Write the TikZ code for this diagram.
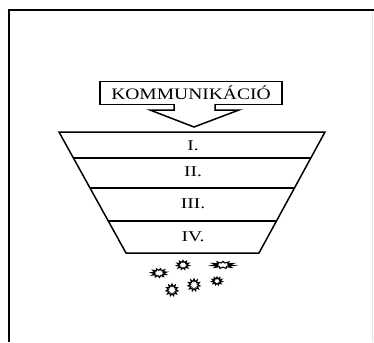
\documentclass[tikz,border=0pt]{standalone}
\usepackage{fontspec}
\setmainfont{Liberation Serif}
\usepackage{graphicx}
\usetikzlibrary{shapes.geometric,calc}
\tikzset{
  frameline/.style={line width=2.6pt, black},
  topline/.style={line width=2pt, black},
  funnel/.style={line width=1.5pt, black},
  lbl/.style={font=\fontsize{15}{15}\selectfont, inner sep=0pt},
  kombox/.style={draw, line width=1.4pt, minimum width=182pt, minimum height=23pt, inner sep=0pt,
    font=\fontsize{16}{16}\selectfont},
  bigarrow/.style={line width=1.5pt, black, fill=white},
  spark/.style={star, star points=11, star point ratio=1.7, draw, line width=1.1pt, fill=white, inner sep=0pt, minimum size=9pt}
}
\begin{document}
\begin{tikzpicture}[x=1pt,y=-1pt]
\useasboundingbox (0,0) rectangle (374,342);
% frame
\draw[frameline] (9,342) -- (9,10);
\draw[topline] (7.7,10) -- (374,10);
\draw[gray!20, line width=0.8pt] (372,11) -- (372,342);
% communication box
\node[kombox] (kom) at (191,93) {\scalebox{1.22}[1]{KOMMUNIKÁCIÓ}};
% arrow
\coordinate (tip) at (194,127);
\draw[bigarrow] (174,104) -- (174,110) -- (150,110) -- (tip) -- (239,110) -- (215,110) -- (215,104);
% funnel
\coordinate (tl) at (59,132);
\coordinate (tr) at (325,132);
\coordinate (br) at (259,253);
\coordinate (bl) at (126,253);
\draw[funnel] (tl) -- (tr) -- (br) -- (bl) -- cycle;
\foreach \yy in {158,188,221} {
  \draw[funnel] ($(tl)!{(\yy-132)/121}!(bl)$) -- ($(tr)!{(\yy-132)/121}!(br)$);
}
\node[lbl] (l1) at (193,146) {\scalebox{1.3}[1]{I.}};
\node[lbl] (l2) at (193,172) {\scalebox{1.3}[1]{II.}};
\node[lbl] (l3) at (193,204) {\scalebox{1.3}[1]{III.}};
\node[lbl] (l4) at (193,237) {\scalebox{1.3}[1]{IV.}};
% sparks
\node[spark, xscale=1.7, rotate=20] (s1) at (159,273) {};
\node[spark, xscale=1.4] (s2) at (183,265) {};
\node[spark, xscale=2.4, yscale=0.8] (s3) at (223,265) {};
\node[spark, minimum size=12pt] (s4) at (172,290) {};
\node[spark, minimum size=12pt] (s5) at (194,285) {};
\node[spark, xscale=1.3, minimum size=8pt] (s6) at (217,281) {};
\end{tikzpicture}
\end{document}
